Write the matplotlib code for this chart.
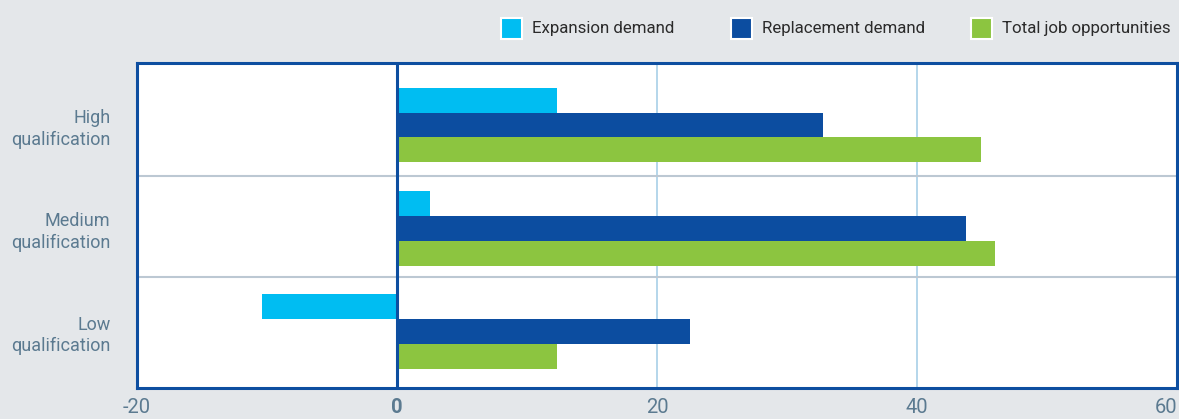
import numpy as np
import matplotlib
matplotlib.use("Agg")
import matplotlib.pyplot as plt
from matplotlib.patches import Rectangle

plt.rcParams['font.family'] = ['Roboto', 'DejaVu Sans']

# Datos
categorias = ["High\nqualification", "Medium\nqualification", "Low\nqualification"]
expansion = [12.3, 2.5, -10.4]
reemplazo = [32.8, 43.8, 22.5]
total = [44.9, 46.0, 12.3]
series = ["Expansion demand", "Replacement demand", "Total job opportunities"]
colores = ["#00bdf2", "#0c4da0", "#8cc540"]

fondo = "#e4e7ea"
azul = "#0d4ea0"
gris_texto = "#5b7a90"
W, H = 1179, 419

fig = plt.figure(figsize=(W / 100, H / 100), dpi=100, facecolor=fondo)
ax = fig.add_axes([137 / W, 1 - 388 / H, 1040 / W, 325 / H])
ax.set_facecolor("white")

y = np.arange(len(categorias))
h = 0.24
for i, (vals, c) in enumerate(zip([expansion, reemplazo, total], colores)):
    ax.barh(y + (i - 1) * h, vals, height=h, color=c, zorder=3)

ax.set_xlim(-20, 60)
ax.set_ylim(2.545, -0.60)

# lineas de grilla
for xv in [20, 40]:
    ax.axvline(xv, color="#a8cfe8", lw=1.2, zorder=1)
for yv in [0.49, 1.47]:
    ax.axhline(yv, color="#bcc8d3", lw=1.5, zorder=1)
ax.axvline(0, color=azul, lw=2.2, zorder=4)

for s in ax.spines.values():
    s.set_color(azul)
    s.set_linewidth(2.2)

ax.set_xticks([-20, 0, 20, 40, 60])
ax.set_xticklabels(["-20", "0", "20", "40", "60"])
ax.tick_params(axis="x", length=0, pad=7, labelsize=14.5, labelcolor=gris_texto)
etiquetas_x = ax.get_xticklabels()
etiquetas_x[1].set_fontweight("bold")
etiquetas_x[-1].set_horizontalalignment("right")

ax.set_yticks(y)
ax.set_yticklabels(categorias)
ax.tick_params(axis="y", length=0, pad=19, labelsize=13, labelcolor=gris_texto)
for t in ax.get_yticklabels():
    t.set_linespacing(1.25)

# leyenda manual arriba a la derecha
x_cuadros = [501, 731, 971]
x_textos = [532, 762, 1002]
for xc, xt, c, nombre in zip(x_cuadros, x_textos, colores, series):
    fig.patches.append(Rectangle((xc / W, 1 - 39 / H), 21 / W, 21 / H,
                                 transform=fig.transFigure, facecolor=c,
                                 edgecolor="white", linewidth=1.5))
    fig.text(xt / W, 1 - 29 / H, nombre, fontsize=12.2, color="#2b2b2b",
             va="center", ha="left")

fig.savefig("out.png", dpi=100, facecolor=fondo)
